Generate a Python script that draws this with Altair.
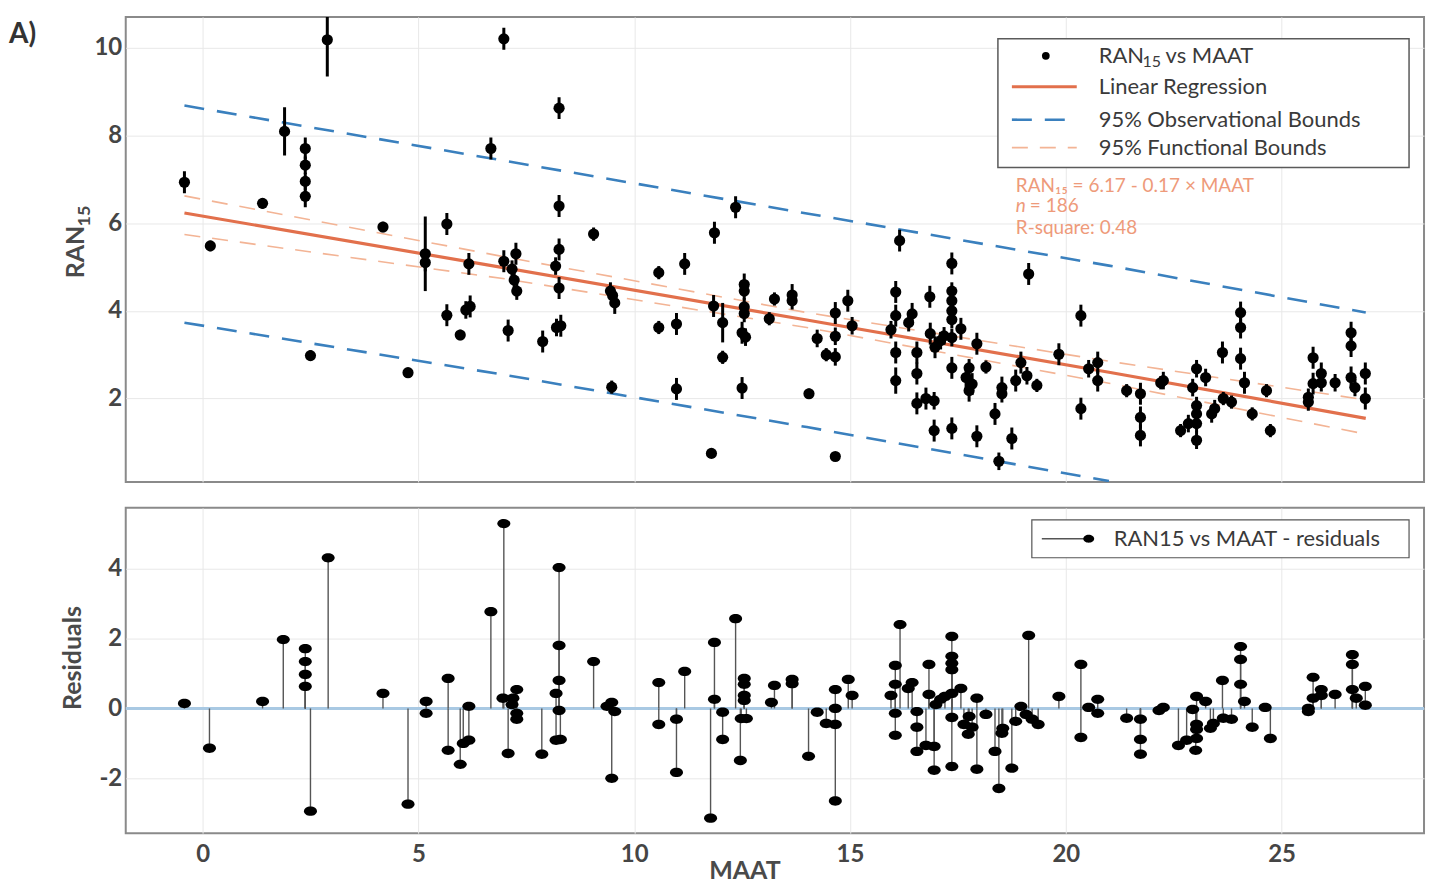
import altair as alt
import pandas as pd

FONT = "Lato"

# ---------------- top panel: RAN15 vs MAAT (with error bars) ----------------
top_maat = [-0.42, 0.18, 1.39, 1.90, 2.38, 2.38, 2.38, 2.38, 2.50, 2.89,
            4.18, 4.76, 5.16, 5.16, 5.66, 5.66, 5.97, 6.17, 6.10, 6.20,
            6.68, 6.98, 6.98, 7.08, 7.26, 7.17, 7.22, 7.28, 7.88, 8.26,
            8.26, 8.26, 8.18, 8.26, 8.20, 8.30, 9.06, 9.45, 9.50, 9.55,
            9.48, 10.57, 10.57, 10.98, 11.17, 10.98, 11.79, 11.86, 11.84, 12.05,
            12.05, 12.35, 12.55, 12.55, 12.55, 12.55, 12.50, 12.58, 12.50, 13.25,
            13.13, 13.66, 13.66, 14.05, 14.24, 14.45, 14.66, 14.66, 14.66, 14.66,
            14.95, 15.05, 16.15, 16.06, 16.06, 15.95, 16.06, 16.06, 16.44, 16.36,
            16.55, 16.55, 16.55, 16.76, 16.95, 16.85, 16.86, 16.97, 16.95, 17.10,
            17.18, 17.36, 17.36, 17.36, 17.36, 17.36, 17.36, 17.36, 17.36, 17.57,
            17.69, 17.76, 17.83, 17.76, 17.94, 18.15, 17.94, 18.36, 18.52, 18.52,
            18.45, 18.75, 18.84, 18.96, 19.10, 19.33, 19.14, 19.84, 20.35, 20.35,
            20.53, 20.74, 20.74, 21.41, 21.73, 21.73, 21.73, 22.20, 22.26, 22.66,
            22.84, 22.94, 23.03, 23.03, 23.03, 23.03, 23.03, 23.24, 23.38, 23.45,
            23.63, 23.65, 23.84, 24.05, 24.05, 24.05, 24.14, 24.32, 24.65, 24.74,
            25.62, 25.62, 25.73, 25.73, 25.92, 25.92, 26.24, 26.61, 26.61, 26.61,
            26.70, 26.94, 26.94]
top_ran15 = [6.93, 5.48, 6.45, 8.09, 7.70, 7.32, 6.95, 6.61, 2.98, 10.18,
             5.91, 2.59, 5.30, 5.10, 5.98, 3.90, 3.45, 5.07, 4.02, 4.10,
             7.70, 10.20, 5.13, 3.55, 5.30, 4.95, 4.70, 4.45, 3.30, 8.62,
             6.39, 5.40, 5.02, 4.52, 3.62, 3.66, 5.75, 4.45, 4.35, 4.18,
             2.26, 4.87, 3.62, 3.70, 5.07, 2.22, 0.75, 5.78, 4.11, 3.73,
             2.94, 6.36, 4.60, 4.45, 4.09, 3.94, 3.50, 3.40, 2.24, 4.27,
             3.82, 4.36, 4.23, 2.11, 3.37, 3.00, 3.95, 3.42, 2.95, 0.68,
             4.23, 3.66, 5.60, 4.43, 3.89, 3.57, 3.05, 2.41, 3.93, 3.73,
             3.05, 2.57, 1.89, 2.00, 1.95, 4.32, 3.48, 3.17, 1.27, 3.32,
             3.43, 5.08, 4.45, 4.23, 4.00, 3.80, 3.39, 2.70, 1.32, 3.59,
             2.48, 2.70, 2.33, 2.18, 3.25, 2.72, 1.14, 1.65, 2.25, 2.11,
             0.57, 1.09, 2.41, 2.82, 2.52, 2.30, 4.84, 3.01, 3.89, 1.77,
             2.68, 2.82, 2.41, 2.18, 2.11, 1.57, 1.16, 2.36, 2.41, 1.27,
             1.43, 2.25, 2.68, 1.84, 1.65, 1.43, 1.05, 2.48, 1.65, 1.77,
             3.05, 2.00, 1.92, 3.96, 3.62, 2.91, 2.36, 1.65, 2.18, 1.27,
             2.03, 1.92, 2.93, 2.34, 2.57, 2.36, 2.36, 3.50, 3.20, 2.48,
             2.25, 2.57, 2.00]
top_err = [0.25, 0.12, 0.12, 0.55, 0.25, 0.20, 0.20, 0.25, 0.12, 0.84,
           0.12, 0.10, 0.85, 0.20, 0.25, 0.25, 0.12, 0.25, 0.20, 0.25,
           0.25, 0.25, 0.25, 0.25, 0.25, 0.20, 0.20, 0.20, 0.25, 0.25,
           0.25, 0.25, 0.20, 0.25, 0.20, 0.25, 0.15, 0.20, 0.20, 0.25,
           0.15, 0.15, 0.15, 0.25, 0.25, 0.25, 0.10, 0.25, 0.25, 0.45,
           0.15, 0.25, 0.25, 0.20, 0.20, 0.20, 0.25, 0.20, 0.25, 0.15,
           0.15, 0.25, 0.20, 0.12, 0.20, 0.15, 0.25, 0.20, 0.20, 0.10,
           0.25, 0.20, 0.25, 0.25, 0.25, 0.20, 0.25, 0.30, 0.25, 0.20,
           0.25, 0.25, 0.25, 0.25, 0.20, 0.25, 0.25, 0.25, 0.25, 0.20,
           0.20, 0.25, 0.20, 0.20, 0.20, 0.20, 0.20, 0.25, 0.25, 0.25,
           0.25, 0.20, 0.25, 0.25, 0.25, 0.15, 0.25, 0.25, 0.25, 0.20,
           0.20, 0.25, 0.25, 0.25, 0.20, 0.15, 0.25, 0.25, 0.25, 0.25,
           0.20, 0.25, 0.25, 0.15, 0.25, 0.25, 0.25, 0.15, 0.20, 0.15,
           0.20, 0.20, 0.20, 0.20, 0.20, 0.20, 0.20, 0.20, 0.20, 0.20,
           0.25, 0.15, 0.15, 0.25, 0.25, 0.25, 0.25, 0.15, 0.15, 0.15,
           0.20, 0.20, 0.25, 0.25, 0.25, 0.20, 0.20, 0.25, 0.25, 0.25,
           0.20, 0.25, 0.25]

# regression line and bounds
line_maat = [-0.42, 7.0, 14.0, 21.0, 26.95]
fit_ran15 = [6.23, 4.98, 3.79, 2.60, 1.55]
fun_upper = [6.62, 5.23, 3.96, 2.85, 1.97]
fun_lower = [5.74, 4.73, 3.62, 2.35, 1.19]
obs_upper = [8.68, 7.42, 6.22, 5.03, 3.96]
obs_lower_maat = [-0.42, 7.0, 14.0, 21.0]
obs_lower = [3.73, 2.54, 1.35, 0.12]

# ---------------- bottom panel: residuals ----------------
res_maat = [-0.42, 0.16, 1.39, 1.87, 2.38, 2.38, 2.38, 2.38, 2.50, 2.91,
            4.18, 4.76, 5.18, 5.18, 5.69, 5.69, 5.97, 6.04, 6.17, 6.17,
            6.68, 6.98, 6.96, 7.08, 7.19, 7.28, 7.17, 7.28, 7.28, 7.86,
            8.26, 8.26, 8.26, 8.19, 8.26, 8.19, 8.29, 9.06, 9.37, 9.48,
            9.55, 9.48, 10.57, 10.57, 10.98, 10.98, 11.17, 11.86, 11.86, 11.77,
            12.05, 12.05, 12.35, 12.55, 12.55, 12.55, 12.55, 12.48, 12.60, 12.46,
            13.18, 13.25, 13.66, 13.66, 14.04, 14.24, 14.45, 14.66, 14.66, 14.66,
            14.66, 14.96, 15.05, 16.16, 16.05, 16.05, 15.95, 16.05, 16.05, 16.35,
            16.44, 16.55, 16.55, 16.55, 16.83, 16.83, 16.76, 16.95, 16.95, 16.99,
            17.10, 17.20, 17.36, 17.36, 17.36, 17.36, 17.36, 17.36, 17.36, 17.57,
            17.64, 17.76, 17.83, 17.74, 17.94, 17.94, 18.15, 18.36, 18.45, 18.52,
            18.54, 18.75, 18.84, 18.96, 19.08, 19.22, 19.36, 19.14, 19.84, 20.35,
            20.35, 20.53, 20.74, 20.74, 21.41, 21.73, 21.73, 21.73, 22.16, 22.26,
            22.61, 22.80, 22.94, 23.03, 23.03, 23.03, 23.03, 23.01, 23.24, 23.35,
            23.42, 23.63, 23.65, 23.84, 24.05, 24.05, 24.05, 24.14, 24.32, 24.62,
            24.74, 25.62, 25.62, 25.73, 25.73, 25.92, 25.92, 26.24, 26.64, 26.64,
            26.64, 26.73, 26.94, 26.94]
res_value = [0.14, -1.14, 0.20, 1.97, 1.71, 1.34, 0.97, 0.63, -2.94, 4.31,
             0.43, -2.74, 0.20, -0.14, 0.86, -1.20, -1.60, -1.00, -0.91, 0.06,
             2.77, 5.29, 0.29, -1.29, 0.29, 0.54, 0.11, -0.14, -0.31, -1.31,
             4.03, 1.80, 0.80, 0.43, -0.06, -0.91, -0.89, 1.34, 0.06, 0.17,
             -0.09, -2.00, 0.74, -0.46, -0.31, -1.83, 1.06, 1.89, 0.26, -3.14,
             -0.11, -0.89, 2.57, 0.86, 0.69, 0.37, 0.23, -0.29, -0.29, -1.49,
             0.17, 0.66, 0.83, 0.71, -1.37, -0.11, -0.43, 0.54, 0.00, -0.46,
             -2.65, 0.83, 0.37, 2.40, 1.23, 0.69, 0.37, -0.14, -0.77, 0.57,
             0.74, -0.09, -0.54, -1.23, 1.26, 0.40, -1.06, -1.09, -1.77, 0.11,
             0.26, 0.34, 2.06, 1.49, 1.29, 1.11, 0.43, -0.26, -1.66, 0.57,
             -0.46, -0.23, -0.54, -0.74, 0.29, -1.74, -0.17, -1.23, -2.29, -0.71,
             -0.57, -1.71, -0.37, 0.06, -0.17, -0.31, -0.46, 2.09, 0.34, 1.26,
             -0.83, 0.03, 0.26, -0.14, -0.28, -0.31, -0.89, -1.31, -0.06, 0.03,
             -1.06, -0.91, -0.03, 0.34, -0.46, -0.60, -0.86, -1.20, 0.20, -0.57,
             -0.43, 0.80, -0.28, -0.31, 1.77, 1.40, 0.69, 0.20, -0.54, 0.03,
             -0.86, -0.09, 0.00, 0.89, 0.29, 0.54, 0.37, 0.40, 1.54, 1.26,
             0.54, 0.29, 0.63, 0.09]

x_ticks = [0, 5, 10, 15, 20, 25]
top_y_ticks = [2, 4, 6, 8, 10]
res_y_ticks = [-2, 0, 2, 4]

# ---------------- styles ----------------
C_REG = "#E2704C"
C_OBS = "#3A80BE"
C_FUN = "#F3B495"
C_TXT = "#3a3a3a"
C_AX = "#4a4a4a"
C_ANN = "#EE9A7A"
ELLIPSE = "M-1,0A1,0.72,0,1,1,1,0A1,0.72,0,1,1,-1,0Z"

W = 1301
H_TOP = 466
H_BOT = 326

top_df = pd.DataFrame({"x": top_maat, "y": top_ran15, "err": top_err})
top_df["lo"] = top_df["y"] - top_df["err"]
top_df["hi"] = top_df["y"] + top_df["err"]
fit_df = pd.DataFrame({"x": line_maat, "y": fit_ran15})
fun_hi_df = pd.DataFrame({"x": line_maat, "y": fun_upper})
fun_lo_df = pd.DataFrame({"x": line_maat, "y": fun_lower})
obs_hi_df = pd.DataFrame({"x": line_maat, "y": obs_upper})
obs_lo_df = pd.DataFrame({"x": obs_lower_maat, "y": obs_lower})
res_df = pd.DataFrame({"x": res_maat, "r": res_value})
dummy = pd.DataFrame({"d": [0]})

XS = alt.Scale(domain=[-1.78, 28.3], nice=False, zero=False)
YS_TOP = alt.Scale(domain=[0.1, 10.7], nice=False, zero=False)
YS_BOT = alt.Scale(domain=[-3.57, 5.74], nice=False, zero=False)

MINUS = "replace(datum.label, '\u2212', '-')"
ax_x_top = alt.Axis(values=x_ticks, labels=False, ticks=False, domain=False, title=None, grid=True)
ax_y_top = alt.Axis(values=top_y_ticks, title=None,
                    ticks=False, domain=False, labelPadding=4, grid=True)
ax_x_bot = alt.Axis(values=x_ticks, title="MAAT", titleX=620, titleY=45, titleBaseline="alphabetic",
                    ticks=False, domain=False, labelPadding=9, grid=True)
ax_y_bot = alt.Axis(values=res_y_ticks, title="Residuals", titleX=-40, titleY=150,
                    ticks=False, domain=False, labelPadding=4, grid=True, labelExpr=MINUS)

X_TOP = alt.X("x:Q", scale=XS, axis=ax_x_top)
X_BOT = alt.X("x:Q", scale=XS, axis=ax_x_bot)


def Ytop(field):
    return alt.Y(field, scale=YS_TOP, axis=ax_y_top)


def txt(label, x, y, size, color, weight="normal", style="normal", align="left",
        baseline="middle", angle=0):
    return alt.Chart(dummy).mark_text(
        text=label, align=align, baseline=baseline, font=FONT, fontSize=size,
        fontWeight=weight, fontStyle=style, color=color, angle=angle
    ).encode(x=alt.value(x), y=alt.value(y))


def hrule(x1, x2, y, color, width, dash=None):
    kw = dict(color=color, strokeWidth=width)
    if dash:
        kw["strokeDash"] = dash
    return alt.Chart(dummy).mark_rule(**kw).encode(x=alt.value(x1), x2=alt.value(x2), y=alt.value(y))


def box(x1, x2, y1, y2, stroke, sw):
    return alt.Chart(dummy).mark_rect(fill="white", stroke=stroke, strokeWidth=sw).encode(
        x=alt.value(x1), x2=alt.value(x2), y=alt.value(y1), y2=alt.value(y2))


def dot(x, y, size, shape="circle"):
    return alt.Chart(dummy).mark_point(filled=True, color="black", opacity=1, size=size, shape=shape).encode(
        x=alt.value(x), y=alt.value(y))


def line_layer(df, color, width, dash=None):
    kw = dict(color=color, strokeWidth=width, clip=True)
    if dash:
        kw["strokeDash"] = dash
    return alt.Chart(df).mark_line(**kw).encode(x=X_TOP, y=Ytop("y:Q"))


top_layers = [
    line_layer(obs_hi_df, C_OBS, 2.6, [20, 13]),
    line_layer(obs_lo_df, C_OBS, 2.6, [20, 13]),
    line_layer(fun_hi_df, C_FUN, 1.6, [16, 12]),
    line_layer(fun_lo_df, C_FUN, 1.6, [16, 12]),
    line_layer(fit_df, C_REG, 3.2),
    alt.Chart(top_df).mark_rule(color="black", strokeWidth=3, clip=True).encode(
        x=X_TOP, y=Ytop("lo:Q"), y2="hi:Q"),
    alt.Chart(top_df).mark_point(filled=True, color="black", opacity=1, size=125).encode(
        x=X_TOP, y=Ytop("y:Q")),
    # y-axis title with a real subscript
    txt("RAN", -42, 262, 25, C_AX, weight="bold", baseline="alphabetic", angle=270),
    txt("15", -36, 210, 18, C_AX, weight="bold", baseline="alphabetic", angle=270),
    # legend
    box(874, 1286, 22, 151, "#5a5a5a", 1.5),
    dot(922, 39, 60),
    txt("RAN", 975, 39, 22, C_TXT),
    txt("15", 1019, 45, 16, C_TXT),
    txt("vs MAAT", 1042, 39, 22, C_TXT),
    hrule(888, 953, 70, C_REG, 3.2),
    txt("Linear Regression", 975, 70, 22, C_TXT),
    hrule(888, 953, 103, C_OBS, 2.6, [20, 13]),
    txt("95% Observational Bounds", 975, 103, 22, C_TXT),
    hrule(888, 953, 131, C_FUN, 1.6, [16, 12]),
    txt("95% Functional Bounds", 975, 131, 22, C_TXT),
    # annotation
    txt("RAN₁₅ = 6.17 - 0.17 × MAAT", 892, 169, 19, C_ANN),
    txt("n", 892, 190, 19, C_ANN, style="italic"),
    txt("= 186", 906, 190, 19, C_ANN),
    txt("R-square: 0.48", 892, 212, 19, C_ANN),
    # panel label
    txt("A)", -117, 18, 28, "#333333", weight="bold"),
]
top = alt.layer(*top_layers).properties(width=W, height=H_TOP)

bot_layers = [
    alt.Chart(dummy).mark_rule(color="#A9C9E3", strokeWidth=3).encode(
        y=alt.YDatum(0, scale=YS_BOT, axis=ax_y_bot)),
    alt.Chart(res_df).mark_rule(color="#555555", strokeWidth=1.4).encode(
        x=X_BOT, y=alt.Y("r:Q", scale=YS_BOT, axis=ax_y_bot), y2=alt.datum(0)),
    alt.Chart(res_df).mark_point(filled=True, color="black", opacity=1, size=170, shape=ELLIPSE).encode(
        x=X_BOT, y=alt.Y("r:Q", scale=YS_BOT, axis=ax_y_bot)),
    box(908, 1286, 12, 50, "#555555", 1.2),
    hrule(918, 965, 31, "#555555", 1.4),
    dot(965, 31, 120, ELLIPSE),
    txt("RAN15 vs MAAT - residuals", 990, 31, 22, C_TXT),
]
bottom = alt.layer(*bot_layers).properties(width=W, height=H_BOT)

chart = alt.vconcat(top, bottom, spacing=24).properties(
    padding={"left": 8, "top": 15, "right": 7, "bottom": 2}
).configure_view(
    stroke="#8a8a8a", strokeWidth=2
).configure_axis(
    labelFont=FONT, labelFontSize=24, labelFontWeight="bold", labelColor="#454545",
    titleFont=FONT, titleFontSize=25, titleFontWeight="bold", titleColor=C_AX,
    gridColor="#e8e8e8", gridWidth=1
)

chart.save("out.html", embed_options={"renderer": "svg", "actions": False})
